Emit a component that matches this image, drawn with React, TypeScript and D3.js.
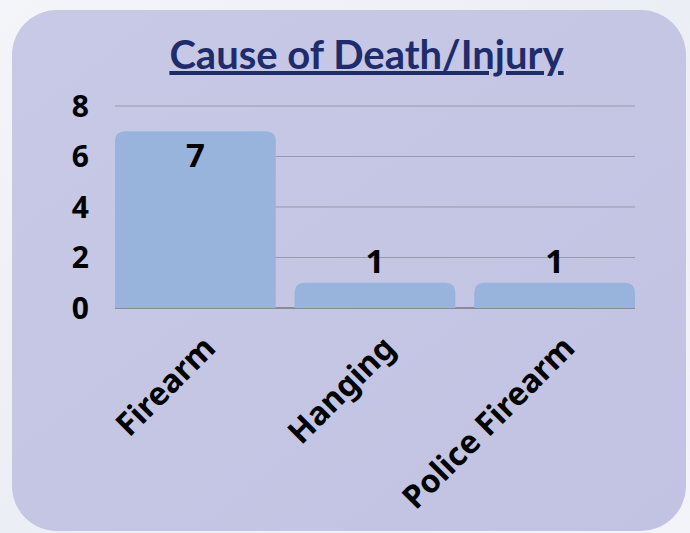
import React from "react";
import * as d3 from "d3";

const categories = ["Firearm", "Hanging", "Police Firearm"];
const values = [7, 1, 1];
const yTicks = [0, 2, 4, 6, 8];
const title = "Cause of Death/Injury";

const W = 690;
const H = 533;
const plot = { left: 115, right: 635, top: 106, bottom: 308 };

function topRoundedBar(x: number, y: number, w: number, h: number, r: number) {
  const rr = Math.min(r, h, w / 2);
  return `M${x},${y + h} L${x},${y + rr} Q${x},${y} ${x + rr},${y} L${x + w - rr},${y} Q${x + w},${y} ${x + w},${y + rr} L${x + w},${y + h} Z`;
}

export default function App() {
  const x = d3
    .scaleBand<string>()
    .domain(categories)
    .range([plot.left, plot.right])
    .paddingInner(0.105)
    .paddingOuter(0);
  const y = d3.scaleLinear().domain([0, 8]).range([plot.bottom, plot.top]);
  const bw = x.bandwidth();
  const font = "'Noto Sans', 'Open Sans', sans-serif";

  return (
    <svg
      width={W}
      height={H}
      viewBox={`0 0 ${W} ${H}`}
      style={{ position: "fixed", left: 0, top: 0, display: "block" }}
    >
      <defs>
        <linearGradient id="bg" x1="0" y1="0" x2="1" y2="1">
          <stop offset="0" stopColor="#f4f5f9" />
          <stop offset="0.5" stopColor="#eceef5" />
          <stop offset="1" stopColor="#f3f4f9" />
        </linearGradient>
        <linearGradient id="panel" x1="0" y1="0" x2="1" y2="1">
          <stop offset="0" stopColor="#c7c9e6" />
          <stop offset="0.5" stopColor="#c4c6e4" />
          <stop offset="1" stopColor="#c2c3e2" />
        </linearGradient>
      </defs>
      <rect x={0} y={0} width={W} height={H} fill="url(#bg)" />
      <rect x={12} y={10} width={674} height={521} rx={45} ry={45} fill="url(#panel)" />

      <text
        x={366.5}
        y={69}
        textAnchor="middle"
        fontFamily="Lato, sans-serif"
        fontWeight={700}
        fontSize={40}
        fill="#1f2c6c"
        textDecoration="underline"
      >
        {title}
      </text>

      {yTicks.map((t) => (
        <g key={t}>
          {t > 0 && (
            <line
              x1={plot.left}
              x2={plot.right}
              y1={y(t)}
              y2={y(t)}
              stroke="#9898ae"
              strokeWidth={1}
            />
          )}
          <text
            x={89}
            y={y(t)}
            dy="0.36em"
            textAnchor="end"
            fontFamily={font}
            fontWeight={700}
            fontSize={30}
            fill="#000"
          >
            {t}
          </text>
        </g>
      ))}

      <line
        x1={plot.left}
        x2={plot.right}
        y1={y(0)}
        y2={y(0)}
        stroke="#77777f"
        strokeWidth={1.5}
      />

      {categories.map((c, i) => {
        const v = values[i];
        const bx = x(c)!;
        const by = y(v);
        const cx = bx + bw / 2;
        const fitsAbove = by - 35 > plot.top;
        const ly = fitsAbove ? by - 10 : by + 36;
        return (
          <g key={c}>
            <path d={topRoundedBar(bx, by, bw, y(0) - by, 10)} fill="#98b4dc" />
            <text
              x={cx}
              y={ly}
              textAnchor="middle"
              fontFamily={font}
              fontWeight={700}
              fontSize={33}
              fill="#000"
            >
              {v}
            </text>
            <text
              transform={`translate(${cx + 22},${y(0) + 42}) rotate(-45)`}
              textAnchor="end"
              fontFamily={font}
              fontWeight={700}
              fontSize={32}
              fill="#000"
            >
              {c}
            </text>
          </g>
        );
      })}
    </svg>
  );
}
